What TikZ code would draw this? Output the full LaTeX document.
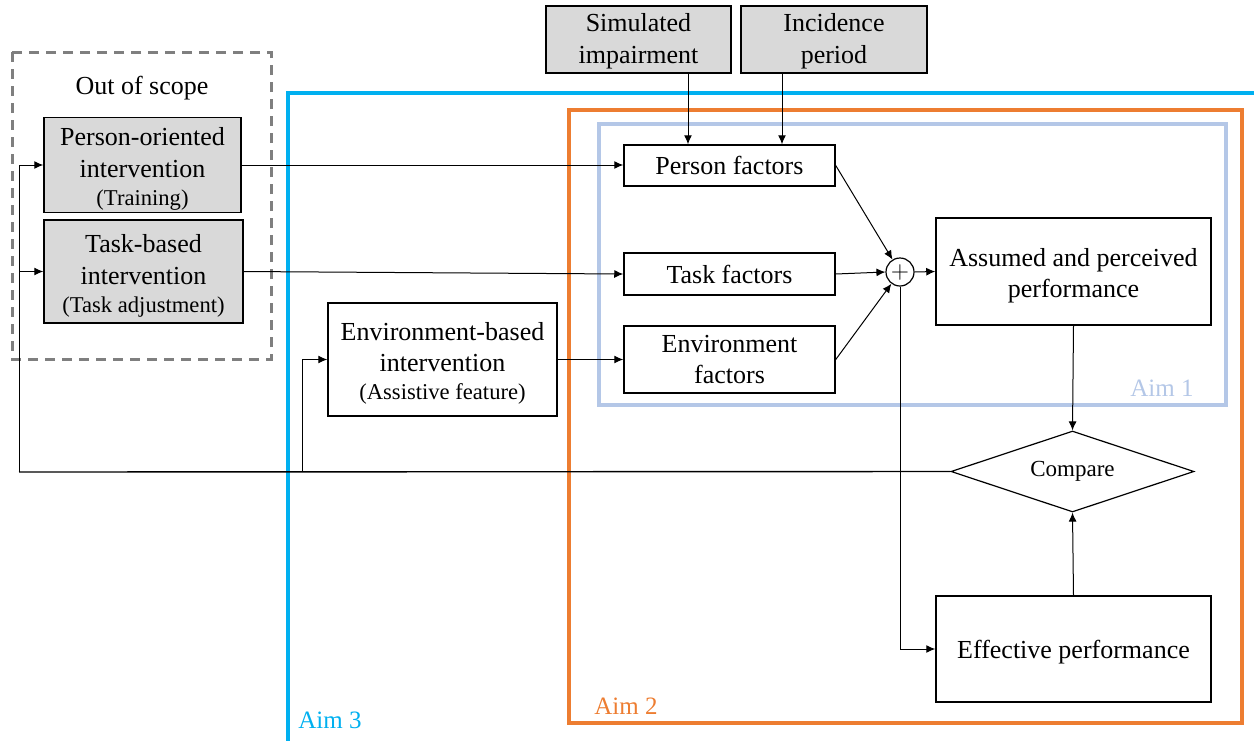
\documentclass[tikz,border=0pt]{standalone}
\usepackage{fontspec}
\setmainfont{Liberation Serif}
\usetikzlibrary{shapes.geometric,arrows.meta}

\definecolor{aimthree}{HTML}{00B0F0}
\definecolor{aimtwo}{HTML}{ED7D31}
\definecolor{aimone}{HTML}{B4C7E7}
\definecolor{boxgray}{HTML}{D9D9D9}
\definecolor{scopegray}{HTML}{7F7F7F}

% small print for the third line of the intervention boxes
\newcommand{\subline}[1]{{\fontsize{11.3}{14}\selectfont #1}}
% invisible strut that lowers the first line of a box
\newcommand{\toppad}[1]{\rule{0pt}{#1}}

\tikzset{
  base/.style={font=\fontsize{13}{15.5}\selectfont, align=center, inner sep=1pt},
  plainbox/.style={base, draw=black, line width=0.75pt, fill=white},
  graybox/.style={base, draw=black, line width=0.75pt, fill=boxgray},
  arr/.style={line width=0.5pt, -{Latex[length=4.5pt,width=4pt]}},
  link/.style={line width=0.5pt},
  frame/.style={line width=2pt},
  aimlabel/.style={font=\fontsize{12.5}{15}\selectfont, inner sep=0pt}
}

\begin{document}
\begin{tikzpicture}[x=0.5pt, y=-0.5pt]
\clip (0,0) rectangle (1254,740);

% aim frames and scope box
\draw[frame, aimthree] (288,745) -- (288,93) -- (1260,93);
\draw[frame, aimtwo] (569,110) rectangle (1242,723);
\draw[frame, aimone] (599,124) rectangle (1226,405);
\draw[line width=1.5pt, scopegray, dash pattern=on 5pt off 3.5pt] (12,52) rectangle (271,359);

\node[aimlabel, text=aimone, anchor=east] (aim1) at (1194,388) {Aim 1};
\node[aimlabel, text=aimtwo, anchor=west] (aim2) at (594,706) {Aim 2};
\node[aimlabel, text=aimthree, anchor=west] (aim3) at (298,720) {Aim 3};

% interventions
\node[base] (scope) at (142,88) {Out of scope};
\node[graybox, minimum width=98.5pt, minimum height=47pt] (pint) at (142.5,165)
  {\toppad{13pt}Person-oriented\\[0.5pt]intervention\\[-1.5pt]\subline{(Training)}};
\node[graybox, minimum width=99.5pt, minimum height=51.5pt] (tint) at (143.5,271.5)
  {\toppad{13pt}Task-based\\[0.5pt]intervention\\[-1.5pt]\subline{(Task adjustment)}};
\node[plainbox, minimum width=114.5pt, minimum height=56.5pt] (eint) at (442.5,359.5)
  {\toppad{13pt}Environment-based\\intervention\\[-1.5pt]\subline{(Assistive feature)}};

% inputs
\node[graybox, minimum width=92.5pt, minimum height=33.5pt] (simimp) at (638.5,39.5)
  {\toppad{11pt}Simulated\\[0.5pt]impairment};
\node[graybox, minimum width=93pt, minimum height=33.5pt] (incid) at (834,39.5)
  {\toppad{11pt}Incidence\\[0.5pt]period};

% factors
\node[plainbox, minimum width=105.5pt, minimum height=20.5pt] (pf) at (729.5,165.5) {Person factors};
\node[plainbox, minimum width=105.5pt, minimum height=21pt] (tf) at (729.5,274) {Task factors};
\node[plainbox, minimum width=105.5pt, minimum height=33.5pt] (ef) at (729.5,359.5) {Environment\\factors};

\node[circle, draw=black, line width=0.6pt, fill=white, minimum size=14pt, inner sep=0pt,
      font=\fontsize{12}{12}\selectfont] (plus) at (900,272) {$+$};

\node[plainbox, minimum width=137.5pt, minimum height=53.5pt] (app) at (1073.5,271.5)
  {\toppad{13pt}Assumed and perceived\\performance};
\node[plainbox, minimum width=137.5pt, minimum height=53pt] (effp) at (1073.5,649)
  {\toppad{12pt}Effective performance};
\node[diamond, aspect=3, draw=black, line width=0.6pt, fill=white, minimum width=121.5pt, minimum height=40.5pt,
      inner sep=0pt, font=\fontsize{11.5}{14}\selectfont] (cmp) at (1072.5,471.5) {Compare};

% connectors
\draw[arr] (pint.east) -- (pint.east -| pf.west);
\draw[arr] (tint.east) -- (tf.west);
\draw[arr] (eint.east) -- (ef.west);
\draw[arr] ([xshift=24.75pt]simimp.south) -- ([xshift=24.75pt]simimp.south |- pf.north);
\draw[arr] ([xshift=-26pt]incid.south) -- ([xshift=-26pt]incid.south |- pf.north);
\draw[arr] (pf.east) -- (plus);
\draw[arr] (tf.east) -- (plus.west);
\draw[arr] (ef.east) -- (plus);
\draw[arr] (plus.east) -- (app.west);
\draw[arr] (app.south) -- (cmp.north);
\draw[arr] (effp.north) -- (cmp.south);
\draw[arr] (plus.south) |- (effp.west);

% feedback from the comparison
\coordinate (fbleft) at (19,472);
\coordinate (fbmid) at (302,472);
\draw[link, line width=0.7pt] (cmp.west) -- (fbleft);
\draw[arr] (fbleft) |- (pint.west);
\draw[arr] (fbleft |- tint.west) -- (tint.west);
\draw[arr] (fbmid) |- (eint.west);
\end{tikzpicture}
\end{document}
